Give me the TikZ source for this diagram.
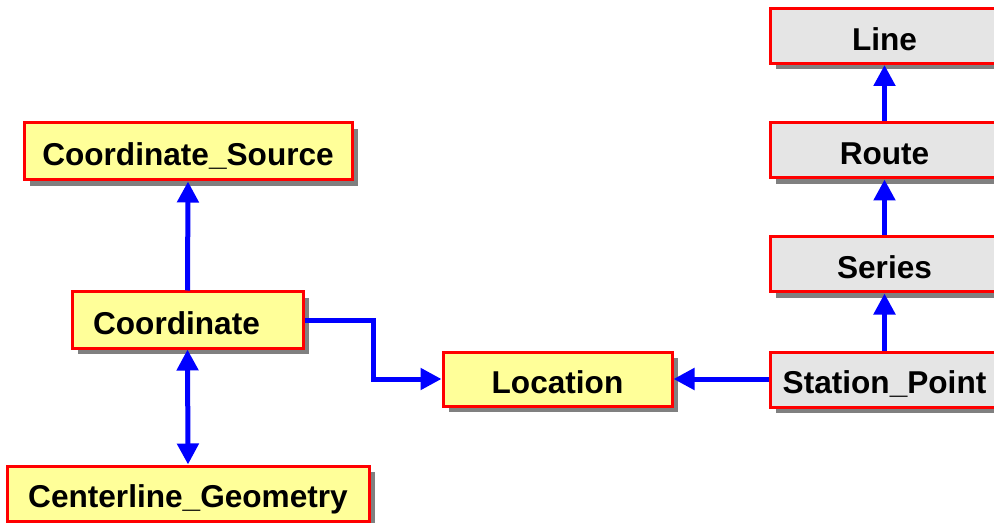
\documentclass[tikz,border=0pt]{standalone}
\usepackage{fontspec}
\setmainfont{Liberation Sans}
\usetikzlibrary{arrows.meta,shadows}
\definecolor{boxyellow}{RGB}{255,255,153}
\definecolor{boxgray}{RGB}{229,229,229}
\begin{document}
\begin{tikzpicture}[x=0.5pt,y=-0.5pt,
  box/.style={draw=red, line width=1.5pt, inner sep=0pt,
    text height=14.3pt, text depth=0pt,
    font=\fontsize{15.8}{18}\selectfont\bfseries,
    drop shadow={shadow xshift=3pt, shadow yshift=-3pt, fill=gray, opacity=1}},
  ybox/.style={box, fill=boxyellow},
  gbox/.style={box, fill=boxgray, minimum width=114.5pt, minimum height=27.5pt},
  link/.style={draw=blue, line width=2.5pt,
    -{Triangle[length=10.5pt,width=10.5pt]}},
  both/.style={link, {Triangle[length=10.5pt,width=10.5pt]}-{Triangle[length=10.5pt,width=10.5pt]}}]
\clip (0,0) rectangle (994,523);
\useasboundingbox (0,0) rectangle (994,523);

% class boxes on the left and middle
\node[ybox, minimum width=164pt, minimum height=28.5pt] (src) at (188,151.5) {Coordinate\_Source};
\node[ybox, minimum width=115.5pt, minimum height=28pt] (coord) at (187.5,320) {Coordinate\hspace*{11pt}};
\node[ybox, minimum width=181pt, minimum height=27.5pt] (geom) at (188,493.5) {Centerline\_Geometry};
\node[ybox, minimum width=114.5pt, minimum height=27pt] (loc) at (557.5,379) {Location};

% linear referencing chain on the right
\node[gbox] (line) at (884.5,36) {Line};
\node[gbox] (route) at (884.5,150.5) {Route};
\node[gbox] (series) at (884.5,264.5) {Series};
\node[gbox] (sp) at (884.5,379.5) {Station\_Point};

% associations
\draw[link] (coord.north) -- (src.south);
\draw[both] (coord.south) -- (geom.north);
\draw[link] (coord.east) -- (373,320) |- (loc.west);
\draw[link] (sp.west |- loc.east) -- (loc.east);
\draw[link] (sp.north) -- (series.south);
\draw[link] (series.north) -- (route.south);
\draw[link] (route.north) -- (line.south);
\end{tikzpicture}
\end{document}
